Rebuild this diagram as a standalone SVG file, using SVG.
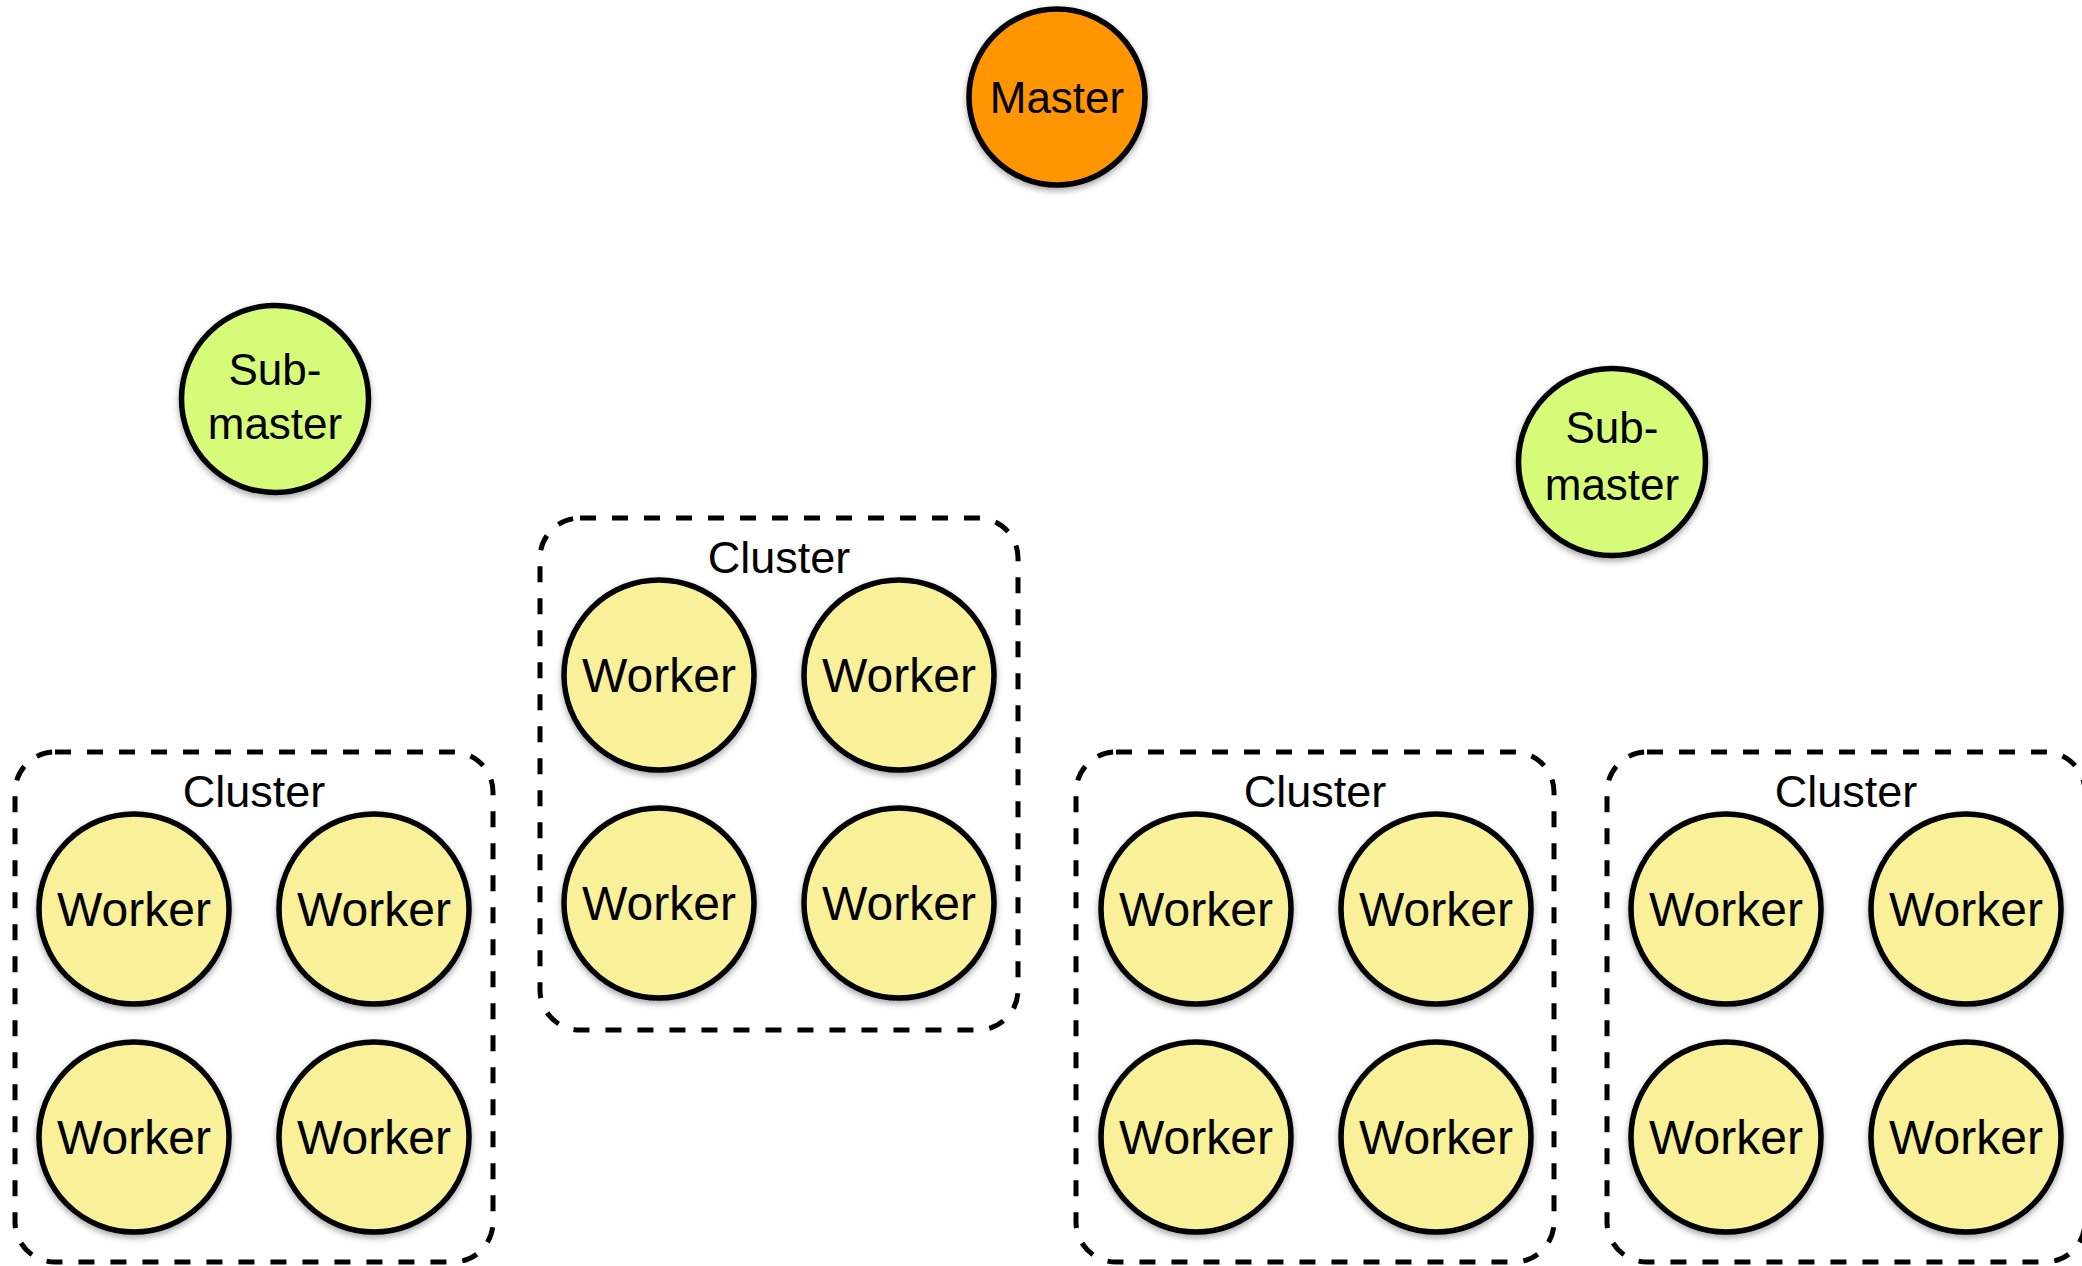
<svg xmlns="http://www.w3.org/2000/svg" width="2082" height="1266" viewBox="0 0 2082 1266">
  <defs>
    <filter id="shadow" x="-20%" y="-20%" width="140%" height="140%">
      <feDropShadow dx="0" dy="3" stdDeviation="3" flood-color="#000" flood-opacity="0.35"/>
    </filter>
  </defs>
  <style>
    .node { stroke: #000; stroke-width: 5.5; filter: url(#shadow); }
    .master { fill: #FF9502; }
    .sub { fill: #D5FB79; }
    .worker { fill: #F9F09A; }
    .cluster { fill: none; stroke: #000; stroke-width: 5; stroke-dasharray: 16 16; }
    text { font-family: "Liberation Sans", Arial, sans-serif; fill: #000; text-anchor: middle; }
    .wt { font-size: 48px; }
    .mt { font-size: 44px; }
    .ct { font-size: 45px; }
  </style>
  <rect width="2082" height="1266" fill="#fff"/>

  <g id="connectors"/>

  <g id="cluster1">
    <rect class="cluster" x="15" y="752" width="478" height="510" rx="40"/>
    <text class="ct" x="254" y="807">Cluster</text>
  </g>
  <g id="cluster2">
    <rect class="cluster" x="540" y="518" width="478" height="512" rx="40"/>
    <text class="ct" x="779" y="573">Cluster</text>
  </g>
  <g id="cluster3">
    <rect class="cluster" x="1076" y="752" width="478" height="510" rx="40"/>
    <text class="ct" x="1315" y="807">Cluster</text>
  </g>
  <g id="cluster4">
    <rect class="cluster" x="1607" y="752" width="478" height="510" rx="40"/>
    <text class="ct" x="1846" y="807">Cluster</text>
  </g>

  <g id="master">
    <circle class="node master" cx="1057" cy="97" r="88"/>
    <text class="mt" x="1057" y="113">Master</text>
  </g>
  <g id="submaster1">
    <circle class="node sub" cx="275" cy="399" r="93.5"/>
    <text class="mt" x="275" y="385">Sub-</text>
    <text class="mt" x="275" y="439">master</text>
  </g>
  <g id="submaster2">
    <circle class="node sub" cx="1612" cy="462" r="93.5"/>
    <text class="mt" x="1612" y="443">Sub-</text>
    <text class="mt" x="1612" y="500">master</text>
  </g>

  <g id="worker1-1"><circle class="node worker" cx="134" cy="909" r="95"/><text class="wt" x="134" y="926">Worker</text></g>
  <g id="worker1-2"><circle class="node worker" cx="374" cy="909" r="95"/><text class="wt" x="374" y="926">Worker</text></g>
  <g id="worker1-3"><circle class="node worker" cx="134" cy="1137" r="95"/><text class="wt" x="134" y="1154">Worker</text></g>
  <g id="worker1-4"><circle class="node worker" cx="374" cy="1137" r="95"/><text class="wt" x="374" y="1154">Worker</text></g>

  <g id="worker2-1"><circle class="node worker" cx="659" cy="675" r="95"/><text class="wt" x="659" y="692">Worker</text></g>
  <g id="worker2-2"><circle class="node worker" cx="899" cy="675" r="95"/><text class="wt" x="899" y="692">Worker</text></g>
  <g id="worker2-3"><circle class="node worker" cx="659" cy="903" r="95"/><text class="wt" x="659" y="920">Worker</text></g>
  <g id="worker2-4"><circle class="node worker" cx="899" cy="903" r="95"/><text class="wt" x="899" y="920">Worker</text></g>

  <g id="worker3-1"><circle class="node worker" cx="1196" cy="909" r="95"/><text class="wt" x="1196" y="926">Worker</text></g>
  <g id="worker3-2"><circle class="node worker" cx="1436" cy="909" r="95"/><text class="wt" x="1436" y="926">Worker</text></g>
  <g id="worker3-3"><circle class="node worker" cx="1196" cy="1137" r="95"/><text class="wt" x="1196" y="1154">Worker</text></g>
  <g id="worker3-4"><circle class="node worker" cx="1436" cy="1137" r="95"/><text class="wt" x="1436" y="1154">Worker</text></g>

  <g id="worker4-1"><circle class="node worker" cx="1726" cy="909" r="95"/><text class="wt" x="1726" y="926">Worker</text></g>
  <g id="worker4-2"><circle class="node worker" cx="1966" cy="909" r="95"/><text class="wt" x="1966" y="926">Worker</text></g>
  <g id="worker4-3"><circle class="node worker" cx="1726" cy="1137" r="95"/><text class="wt" x="1726" y="1154">Worker</text></g>
  <g id="worker4-4"><circle class="node worker" cx="1966" cy="1137" r="95"/><text class="wt" x="1966" y="1154">Worker</text></g>
</svg>
